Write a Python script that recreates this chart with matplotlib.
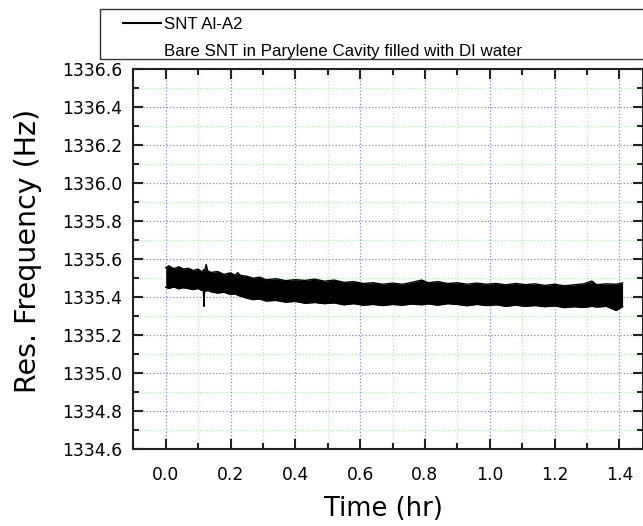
import matplotlib
matplotlib.use("Agg")
import matplotlib.pyplot as plt
from matplotlib.lines import Line2D
from matplotlib.patches import Rectangle
from matplotlib.ticker import MultipleLocator, FormatStrFormatter

plt.rcParams['font.family'] = ['DejaVu Sans']

# ---------------------------
# Data (upper / lower edge of the noise band)
# ---------------------------
time_hr = [0.000, 0.010, 0.025, 0.040, 0.055, 0.070, 0.085, 0.100, 0.110, 0.116,
           0.118, 0.120, 0.125, 0.129, 0.140, 0.160, 0.180, 0.200, 0.215, 0.222,
           0.230, 0.250, 0.270, 0.290, 0.310, 0.340, 0.370, 0.400, 0.430, 0.460,
           0.490, 0.520, 0.550, 0.580, 0.610, 0.640, 0.670, 0.700, 0.730, 0.760,
           0.790, 0.810, 0.840, 0.870, 0.900, 0.930, 0.960, 0.990, 1.020, 1.050,
           1.080, 1.110, 1.140, 1.170, 1.200, 1.230, 1.260, 1.290, 1.315, 1.330,
           1.360, 1.390, 1.410]

freq_upper = [1335.555, 1335.565, 1335.550, 1335.560, 1335.548, 1335.552, 1335.540, 1335.548, 1335.535, 1335.540,
              1335.545, 1335.540, 1335.572, 1335.540, 1335.530, 1335.535, 1335.520, 1335.528, 1335.515, 1335.530,
              1335.515, 1335.510, 1335.500, 1335.505, 1335.492, 1335.497, 1335.487, 1335.492, 1335.488, 1335.495,
              1335.484, 1335.490, 1335.478, 1335.482, 1335.472, 1335.476, 1335.468, 1335.474, 1335.468, 1335.478,
              1335.490, 1335.476, 1335.482, 1335.472, 1335.476, 1335.468, 1335.474, 1335.468, 1335.472, 1335.465,
              1335.472, 1335.466, 1335.470, 1335.462, 1335.468, 1335.460, 1335.465, 1335.470, 1335.485, 1335.466,
              1335.470, 1335.468, 1335.475]

freq_lower = [1335.452, 1335.446, 1335.454, 1335.444, 1335.450, 1335.445, 1335.440, 1335.446, 1335.436, 1335.438,
              1335.352, 1335.434, 1335.432, 1335.436, 1335.428, 1335.422, 1335.426, 1335.414, 1335.418, 1335.410,
              1335.406, 1335.395, 1335.387, 1335.390, 1335.380, 1335.383, 1335.374, 1335.378, 1335.368, 1335.372,
              1335.366, 1335.370, 1335.360, 1335.366, 1335.358, 1335.362, 1335.356, 1335.362, 1335.358, 1335.364,
              1335.360, 1335.365, 1335.358, 1335.366, 1335.362, 1335.355, 1335.362, 1335.356, 1335.360, 1335.352,
              1335.358, 1335.352, 1335.356, 1335.350, 1335.354, 1335.345, 1335.350, 1335.346, 1335.352, 1335.348,
              1335.352, 1335.330, 1335.350]

legend_labels = ["SNT Al-A2", "Bare SNT in Parylene Cavity filled with DI water"]

# ---------------------------
# Figure
# ---------------------------
W, H = 643, 526
fig = plt.figure(figsize=(W / 100, H / 100), dpi=100)
ax = fig.add_axes([133.3 / W, 1 - 449.3 / H, (643 - 133.3) / W, (449.3 - 69) / H])

ax.fill_between(time_hr, freq_lower, freq_upper, color='black', lw=0)
ax.plot(time_hr, freq_upper, color='black', lw=1.0)
ax.plot(time_hr, freq_lower, color='black', lw=1.0)

ax.set_xlim(-0.1, 1.473)
ax.set_ylim(1334.6, 1336.6)

ax.xaxis.set_major_locator(MultipleLocator(0.2))
ax.xaxis.set_minor_locator(MultipleLocator(0.1))
ax.yaxis.set_major_locator(MultipleLocator(0.2))
ax.yaxis.set_minor_locator(MultipleLocator(0.1))
ax.xaxis.set_major_formatter(FormatStrFormatter('%.1f'))
ax.yaxis.set_major_formatter(FormatStrFormatter('%.1f'))

ax.grid(which='major', color='#8080ff', ls=':', lw=0.9)
ax.grid(which='minor', color='#b0f0b0', ls=':', lw=0.9)
ax.set_axisbelow(True)

ax.tick_params(which='both', direction='in', top=True, right=True, width=1.5, color='#222222')
ax.tick_params(which='major', length=7)
ax.tick_params(which='minor', length=4)
ax.tick_params(axis='x', which='major', pad=12, labelsize=12.3)
ax.tick_params(axis='y', which='major', pad=8, labelsize=12.3)
for s in ax.spines.values():
    s.set_linewidth(1.5)
    s.set_color('#222222')

ax.set_xlabel("Time (hr)", fontsize=18.5)
ax.set_ylabel("Res. Frequency (Hz)", fontsize=20.5)
ax.xaxis.set_label_coords(0.5 - 5 / 510, -0.124)
ax.yaxis.set_label_coords(-0.18, 0.521)

# Legend (frame drawn separately, it runs off the right edge)
handles = [Line2D([], [], color='black', lw=1.5), Line2D([], [], color='none')]
fig.legend(handles, legend_labels, loc='upper left', frameon=False,
           prop={'family': 'Liberation Sans', 'size': 12.2},
           handlelength=2.25, handletextpad=0.2, labelspacing=0.68, borderpad=0.4,
           borderaxespad=0, bbox_to_anchor=((122.7 - 6.8) / W, 1 - 10.5 / H))
fig.add_artist(Rectangle((100 / W, 1 - 59.3 / H), 560 / W, 50.6 / H, transform=fig.transFigure,
                         fill=False, lw=1.0, edgecolor='#333333'))

fig.savefig("out.png", dpi=100)
